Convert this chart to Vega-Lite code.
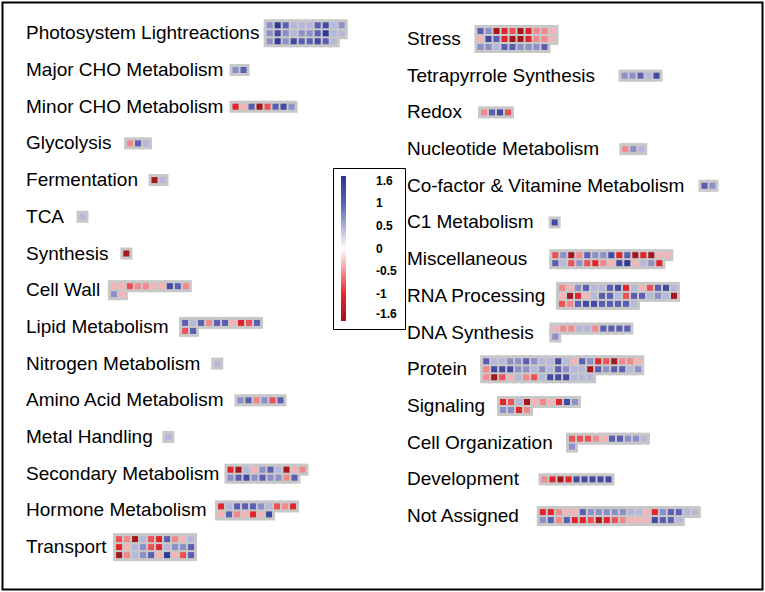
{
"$schema": "https://vega.github.io/schema/vega-lite/v6.json",
"width": 765, "height": 592,
"autosize": {"type": "fit", "contains": "padding"},
"padding": 2.5,
"background": "white",
"config": {"view": {"stroke": "#000", "strokeWidth": 2}},
"datasets": {
"cats": [
{"cat":"Photosystem Lightreactions","side":"L","slot":0,"x0":30.46},
{"cat":"Major CHO Metabolism","side":"L","slot":1,"x0":26.19},
{"cat":"Minor CHO Metabolism","side":"L","slot":2,"x0":26.19},
{"cat":"Glycolysis","side":"L","slot":3,"x0":13.0},
{"cat":"Fermentation","side":"L","slot":4,"x0":16.06},
{"cat":"TCA","side":"L","slot":5,"x0":7.06},
{"cat":"Synthesis","side":"L","slot":6,"x0":12.54},
{"cat":"Cell Wall","side":"L","slot":7,"x0":10.98},
{"cat":"Lipid Metabolism","side":"L","slot":8,"x0":19.88},
{"cat":"Nitrogen Metabolism","side":"L","slot":9,"x0":23.9},
{"cat":"Amino Acid Metabolism","side":"L","slot":10,"x0":26.81},
{"cat":"Metal Handling","side":"L","slot":11,"x0":17.79},
{"cat":"Secondary Metabolism","side":"L","slot":12,"x0":25.56},
{"cat":"Hormone Metabolism","side":"L","slot":13,"x0":24.38},
{"cat":"Transport","side":"L","slot":14,"x0":11.63},
{"cat":"Stress","side":"R","slot":0,"x0":9.19},
{"cat":"Tetrapyrrole Synthesis","side":"R","slot":1,"x0":27.19},
{"cat":"Redox","side":"R","slot":2,"x0":9.63},
{"cat":"Nucleotide Metabolism","side":"R","slot":3,"x0":27.29},
{"cat":"Co-factor & Vitamine Metabolism","side":"R","slot":4,"x0":37.19},
{"cat":"C1 Metabolism","side":"R","slot":5,"x0":18.46},
{"cat":"Miscellaneous","side":"R","slot":6,"x0":18.54},
{"cat":"RNA Processing","side":"R","slot":7,"x0":19.38},
{"cat":"DNA Synthesis","side":"R","slot":8,"x0":18.54},
{"cat":"Protein","side":"R","slot":9,"x0":9.9},
{"cat":"Signaling","side":"R","slot":10,"x0":12.0},
{"cat":"Cell Organization","side":"R","slot":11,"x0":20.63},
{"cat":"Development","side":"R","slot":12,"x0":17.19},
{"cat":"Not Assigned","side":"R","slot":13,"x0":16.98}
],
"cells": [
{"cat":"Photosystem Lightreactions","r":0,"c":0,"v":0.7},{"cat":"Photosystem Lightreactions","r":0,"c":1,"v":1.55},{"cat":"Photosystem Lightreactions","r":0,"c":2,"v":1.0},{"cat":"Photosystem Lightreactions","r":0,"c":3,"v":0.45},{"cat":"Photosystem Lightreactions","r":0,"c":4,"v":0.45},{"cat":"Photosystem Lightreactions","r":0,"c":5,"v":0.45},{"cat":"Photosystem Lightreactions","r":0,"c":6,"v":1.0},{"cat":"Photosystem Lightreactions","r":0,"c":7,"v":1.3},{"cat":"Photosystem Lightreactions","r":0,"c":8,"v":0.45},{"cat":"Photosystem Lightreactions","r":0,"c":9,"v":0.7},
{"cat":"Photosystem Lightreactions","r":1,"c":0,"v":0.7},{"cat":"Photosystem Lightreactions","r":1,"c":1,"v":1.3},{"cat":"Photosystem Lightreactions","r":1,"c":2,"v":0.7},{"cat":"Photosystem Lightreactions","r":1,"c":3,"v":0.45},{"cat":"Photosystem Lightreactions","r":1,"c":4,"v":0.7},{"cat":"Photosystem Lightreactions","r":1,"c":5,"v":0.7},{"cat":"Photosystem Lightreactions","r":1,"c":6,"v":1.0},{"cat":"Photosystem Lightreactions","r":1,"c":7,"v":1.55},{"cat":"Photosystem Lightreactions","r":1,"c":8,"v":0.45},{"cat":"Photosystem Lightreactions","r":1,"c":9,"v":0.45},
{"cat":"Photosystem Lightreactions","r":2,"c":0,"v":0.7},{"cat":"Photosystem Lightreactions","r":2,"c":1,"v":1.55},{"cat":"Photosystem Lightreactions","r":2,"c":2,"v":0.7},{"cat":"Photosystem Lightreactions","r":2,"c":3,"v":1.3},{"cat":"Photosystem Lightreactions","r":2,"c":4,"v":1.0},{"cat":"Photosystem Lightreactions","r":2,"c":5,"v":1.0},{"cat":"Photosystem Lightreactions","r":2,"c":6,"v":1.3},{"cat":"Photosystem Lightreactions","r":2,"c":7,"v":1.0},{"cat":"Photosystem Lightreactions","r":2,"c":8,"v":0.45},
{"cat":"Major CHO Metabolism","r":0,"c":0,"v":0.7},{"cat":"Major CHO Metabolism","r":0,"c":1,"v":1.0},
{"cat":"Minor CHO Metabolism","r":0,"c":0,"v":-1.05},{"cat":"Minor CHO Metabolism","r":0,"c":1,"v":-0.35},{"cat":"Minor CHO Metabolism","r":0,"c":2,"v":1.0},{"cat":"Minor CHO Metabolism","r":0,"c":3,"v":-1.55},{"cat":"Minor CHO Metabolism","r":0,"c":4,"v":-0.8},{"cat":"Minor CHO Metabolism","r":0,"c":5,"v":1.0},{"cat":"Minor CHO Metabolism","r":0,"c":6,"v":1.3},{"cat":"Minor CHO Metabolism","r":0,"c":7,"v":0.7},
{"cat":"Glycolysis","r":0,"c":0,"v":-0.55},{"cat":"Glycolysis","r":0,"c":1,"v":1.0},{"cat":"Glycolysis","r":0,"c":2,"v":0.45},
{"cat":"Fermentation","r":0,"c":0,"v":-1.55},{"cat":"Fermentation","r":0,"c":1,"v":0.45},
{"cat":"TCA","r":0,"c":0,"v":0.45},
{"cat":"Synthesis","r":0,"c":0,"v":-1.55},
{"cat":"Cell Wall","r":0,"c":0,"v":-0.35},{"cat":"Cell Wall","r":0,"c":1,"v":-0.35},{"cat":"Cell Wall","r":0,"c":2,"v":-0.8},{"cat":"Cell Wall","r":0,"c":3,"v":-0.55},{"cat":"Cell Wall","r":0,"c":4,"v":-0.55},{"cat":"Cell Wall","r":0,"c":5,"v":-0.35},{"cat":"Cell Wall","r":0,"c":6,"v":-0.35},{"cat":"Cell Wall","r":0,"c":7,"v":1.3},{"cat":"Cell Wall","r":0,"c":8,"v":1.0},{"cat":"Cell Wall","r":0,"c":9,"v":-0.55},
{"cat":"Cell Wall","r":1,"c":0,"v":0.7},{"cat":"Cell Wall","r":1,"c":1,"v":-0.35},
{"cat":"Lipid Metabolism","r":0,"c":0,"v":1.0},{"cat":"Lipid Metabolism","r":0,"c":1,"v":0.45},{"cat":"Lipid Metabolism","r":0,"c":2,"v":1.0},{"cat":"Lipid Metabolism","r":0,"c":3,"v":-0.55},{"cat":"Lipid Metabolism","r":0,"c":4,"v":1.0},{"cat":"Lipid Metabolism","r":0,"c":5,"v":1.0},{"cat":"Lipid Metabolism","r":0,"c":6,"v":-0.35},{"cat":"Lipid Metabolism","r":0,"c":7,"v":-1.05},{"cat":"Lipid Metabolism","r":0,"c":8,"v":-0.8},{"cat":"Lipid Metabolism","r":0,"c":9,"v":1.0},
{"cat":"Lipid Metabolism","r":1,"c":0,"v":-0.8},{"cat":"Lipid Metabolism","r":1,"c":1,"v":1.0},
{"cat":"Nitrogen Metabolism","r":0,"c":0,"v":0.45},
{"cat":"Amino Acid Metabolism","r":0,"c":0,"v":0.7},{"cat":"Amino Acid Metabolism","r":0,"c":1,"v":1.0},{"cat":"Amino Acid Metabolism","r":0,"c":2,"v":-0.55},{"cat":"Amino Acid Metabolism","r":0,"c":3,"v":0.7},{"cat":"Amino Acid Metabolism","r":0,"c":4,"v":-0.8},{"cat":"Amino Acid Metabolism","r":0,"c":5,"v":1.0},
{"cat":"Metal Handling","r":0,"c":0,"v":0.45},
{"cat":"Secondary Metabolism","r":0,"c":0,"v":-1.05},{"cat":"Secondary Metabolism","r":0,"c":1,"v":-1.55},{"cat":"Secondary Metabolism","r":0,"c":2,"v":0.45},{"cat":"Secondary Metabolism","r":0,"c":3,"v":-0.35},{"cat":"Secondary Metabolism","r":0,"c":4,"v":0.7},{"cat":"Secondary Metabolism","r":0,"c":5,"v":1.0},{"cat":"Secondary Metabolism","r":0,"c":6,"v":0.45},{"cat":"Secondary Metabolism","r":0,"c":7,"v":-1.55},{"cat":"Secondary Metabolism","r":0,"c":8,"v":-0.35},{"cat":"Secondary Metabolism","r":0,"c":9,"v":-0.55},
{"cat":"Secondary Metabolism","r":1,"c":0,"v":0.7},{"cat":"Secondary Metabolism","r":1,"c":1,"v":1.0},{"cat":"Secondary Metabolism","r":1,"c":2,"v":1.3},{"cat":"Secondary Metabolism","r":1,"c":3,"v":0.7},{"cat":"Secondary Metabolism","r":1,"c":4,"v":1.0},{"cat":"Secondary Metabolism","r":1,"c":5,"v":0.7},{"cat":"Secondary Metabolism","r":1,"c":6,"v":0.7},{"cat":"Secondary Metabolism","r":1,"c":7,"v":-0.55},{"cat":"Secondary Metabolism","r":1,"c":8,"v":1.0},
{"cat":"Hormone Metabolism","r":0,"c":0,"v":-1.05},{"cat":"Hormone Metabolism","r":0,"c":1,"v":0.45},{"cat":"Hormone Metabolism","r":0,"c":2,"v":1.0},{"cat":"Hormone Metabolism","r":0,"c":3,"v":1.0},{"cat":"Hormone Metabolism","r":0,"c":4,"v":1.0},{"cat":"Hormone Metabolism","r":0,"c":5,"v":0.7},{"cat":"Hormone Metabolism","r":0,"c":6,"v":0.45},{"cat":"Hormone Metabolism","r":0,"c":7,"v":-0.8},{"cat":"Hormone Metabolism","r":0,"c":8,"v":-0.55},{"cat":"Hormone Metabolism","r":0,"c":9,"v":-1.05},
{"cat":"Hormone Metabolism","r":1,"c":0,"v":-0.35},{"cat":"Hormone Metabolism","r":1,"c":1,"v":1.0},{"cat":"Hormone Metabolism","r":1,"c":2,"v":-0.55},{"cat":"Hormone Metabolism","r":1,"c":3,"v":-0.35},{"cat":"Hormone Metabolism","r":1,"c":4,"v":-1.05},{"cat":"Hormone Metabolism","r":1,"c":5,"v":-0.35},{"cat":"Hormone Metabolism","r":1,"c":6,"v":1.3},
{"cat":"Transport","r":0,"c":0,"v":-0.8},{"cat":"Transport","r":0,"c":1,"v":-0.55},{"cat":"Transport","r":0,"c":2,"v":-1.55},{"cat":"Transport","r":0,"c":3,"v":0.45},{"cat":"Transport","r":0,"c":4,"v":-0.8},{"cat":"Transport","r":0,"c":5,"v":-1.05},{"cat":"Transport","r":0,"c":6,"v":1.0},{"cat":"Transport","r":0,"c":7,"v":-0.55},{"cat":"Transport","r":0,"c":8,"v":-0.35},{"cat":"Transport","r":0,"c":9,"v":0.45},
{"cat":"Transport","r":1,"c":0,"v":-1.05},{"cat":"Transport","r":1,"c":1,"v":-0.35},{"cat":"Transport","r":1,"c":2,"v":0.45},{"cat":"Transport","r":1,"c":3,"v":0.7},{"cat":"Transport","r":1,"c":4,"v":-0.8},{"cat":"Transport","r":1,"c":5,"v":-1.05},{"cat":"Transport","r":1,"c":6,"v":0.45},{"cat":"Transport","r":1,"c":7,"v":0.7},{"cat":"Transport","r":1,"c":8,"v":0.7},{"cat":"Transport","r":1,"c":9,"v":1.0},
{"cat":"Transport","r":2,"c":0,"v":-1.55},{"cat":"Transport","r":2,"c":1,"v":-0.55},{"cat":"Transport","r":2,"c":2,"v":0.45},{"cat":"Transport","r":2,"c":3,"v":0.7},{"cat":"Transport","r":2,"c":4,"v":1.0},{"cat":"Transport","r":2,"c":5,"v":-0.35},{"cat":"Transport","r":2,"c":6,"v":1.55},{"cat":"Transport","r":2,"c":7,"v":-0.35},{"cat":"Transport","r":2,"c":8,"v":-0.8},{"cat":"Transport","r":2,"c":9,"v":1.0},
{"cat":"Stress","r":0,"c":0,"v":1.0},{"cat":"Stress","r":0,"c":1,"v":0.7},{"cat":"Stress","r":0,"c":2,"v":-1.55},{"cat":"Stress","r":0,"c":3,"v":-1.05},{"cat":"Stress","r":0,"c":4,"v":-0.8},{"cat":"Stress","r":0,"c":5,"v":-1.55},{"cat":"Stress","r":0,"c":6,"v":-1.05},{"cat":"Stress","r":0,"c":7,"v":-0.55},{"cat":"Stress","r":0,"c":8,"v":-0.55},{"cat":"Stress","r":0,"c":9,"v":-0.35},
{"cat":"Stress","r":1,"c":0,"v":-0.35},{"cat":"Stress","r":1,"c":1,"v":1.3},{"cat":"Stress","r":1,"c":2,"v":1.0},{"cat":"Stress","r":1,"c":3,"v":-1.05},{"cat":"Stress","r":1,"c":4,"v":-1.55},{"cat":"Stress","r":1,"c":5,"v":-1.55},{"cat":"Stress","r":1,"c":6,"v":-1.05},{"cat":"Stress","r":1,"c":7,"v":-0.55},{"cat":"Stress","r":1,"c":8,"v":-0.55},{"cat":"Stress","r":1,"c":9,"v":-0.35},
{"cat":"Stress","r":2,"c":0,"v":0.7},{"cat":"Stress","r":2,"c":1,"v":0.7},{"cat":"Stress","r":2,"c":2,"v":0.45},{"cat":"Stress","r":2,"c":3,"v":1.0},{"cat":"Stress","r":2,"c":4,"v":1.0},{"cat":"Stress","r":2,"c":5,"v":0.7},{"cat":"Stress","r":2,"c":6,"v":0.7},{"cat":"Stress","r":2,"c":7,"v":0.7},{"cat":"Stress","r":2,"c":8,"v":1.0},
{"cat":"Tetrapyrrole Synthesis","r":0,"c":0,"v":0.7},{"cat":"Tetrapyrrole Synthesis","r":0,"c":1,"v":0.7},{"cat":"Tetrapyrrole Synthesis","r":0,"c":2,"v":1.0},{"cat":"Tetrapyrrole Synthesis","r":0,"c":3,"v":0.45},{"cat":"Tetrapyrrole Synthesis","r":0,"c":4,"v":1.3},
{"cat":"Redox","r":0,"c":0,"v":-0.55},{"cat":"Redox","r":0,"c":1,"v":1.0},{"cat":"Redox","r":0,"c":2,"v":1.3},{"cat":"Redox","r":0,"c":3,"v":-0.8},
{"cat":"Nucleotide Metabolism","r":0,"c":0,"v":-0.55},{"cat":"Nucleotide Metabolism","r":0,"c":1,"v":0.7},{"cat":"Nucleotide Metabolism","r":0,"c":2,"v":0.45},
{"cat":"Co-factor & Vitamine Metabolism","r":0,"c":0,"v":1.0},{"cat":"Co-factor & Vitamine Metabolism","r":0,"c":1,"v":0.7},
{"cat":"C1 Metabolism","r":0,"c":0,"v":1.3},
{"cat":"Miscellaneous","r":0,"c":0,"v":-0.8},{"cat":"Miscellaneous","r":0,"c":1,"v":0.7},{"cat":"Miscellaneous","r":0,"c":2,"v":-1.55},{"cat":"Miscellaneous","r":0,"c":3,"v":-0.55},{"cat":"Miscellaneous","r":0,"c":4,"v":1.0},{"cat":"Miscellaneous","r":0,"c":5,"v":0.7},{"cat":"Miscellaneous","r":0,"c":6,"v":0.7},{"cat":"Miscellaneous","r":0,"c":7,"v":1.3},{"cat":"Miscellaneous","r":0,"c":8,"v":-1.05},{"cat":"Miscellaneous","r":0,"c":9,"v":1.0},{"cat":"Miscellaneous","r":0,"c":10,"v":-1.55},{"cat":"Miscellaneous","r":0,"c":11,"v":-1.05},{"cat":"Miscellaneous","r":0,"c":12,"v":-1.55},{"cat":"Miscellaneous","r":0,"c":13,"v":-0.35},{"cat":"Miscellaneous","r":0,"c":14,"v":-0.35},
{"cat":"Miscellaneous","r":1,"c":0,"v":1.0},{"cat":"Miscellaneous","r":1,"c":1,"v":0.45},{"cat":"Miscellaneous","r":1,"c":2,"v":-0.8},{"cat":"Miscellaneous","r":1,"c":3,"v":0.7},{"cat":"Miscellaneous","r":1,"c":4,"v":-0.8},{"cat":"Miscellaneous","r":1,"c":5,"v":-1.05},{"cat":"Miscellaneous","r":1,"c":6,"v":-0.55},{"cat":"Miscellaneous","r":1,"c":7,"v":-0.35},{"cat":"Miscellaneous","r":1,"c":8,"v":1.3},{"cat":"Miscellaneous","r":1,"c":9,"v":1.55},{"cat":"Miscellaneous","r":1,"c":10,"v":-0.35},{"cat":"Miscellaneous","r":1,"c":11,"v":0.45},{"cat":"Miscellaneous","r":1,"c":12,"v":0.7},{"cat":"Miscellaneous","r":1,"c":13,"v":-1.05},
{"cat":"RNA Processing","r":0,"c":0,"v":-0.55},{"cat":"RNA Processing","r":0,"c":1,"v":-0.35},{"cat":"RNA Processing","r":0,"c":2,"v":0.7},{"cat":"RNA Processing","r":0,"c":3,"v":1.0},{"cat":"RNA Processing","r":0,"c":4,"v":0.45},{"cat":"RNA Processing","r":0,"c":5,"v":0.45},{"cat":"RNA Processing","r":0,"c":6,"v":1.0},{"cat":"RNA Processing","r":0,"c":7,"v":1.3},{"cat":"RNA Processing","r":0,"c":8,"v":-1.05},{"cat":"RNA Processing","r":0,"c":9,"v":0.45},{"cat":"RNA Processing","r":0,"c":10,"v":-0.35},{"cat":"RNA Processing","r":0,"c":11,"v":-0.8},{"cat":"RNA Processing","r":0,"c":12,"v":1.0},{"cat":"RNA Processing","r":0,"c":13,"v":1.3},{"cat":"RNA Processing","r":0,"c":14,"v":0.45},
{"cat":"RNA Processing","r":1,"c":0,"v":-0.35},{"cat":"RNA Processing","r":1,"c":1,"v":-1.55},{"cat":"RNA Processing","r":1,"c":2,"v":-1.05},{"cat":"RNA Processing","r":1,"c":3,"v":-0.35},{"cat":"RNA Processing","r":1,"c":4,"v":0.45},{"cat":"RNA Processing","r":1,"c":5,"v":1.0},{"cat":"RNA Processing","r":1,"c":6,"v":1.0},{"cat":"RNA Processing","r":1,"c":7,"v":0.45},{"cat":"RNA Processing","r":1,"c":8,"v":-0.8},{"cat":"RNA Processing","r":1,"c":9,"v":1.0},{"cat":"RNA Processing","r":1,"c":10,"v":1.0},{"cat":"RNA Processing","r":1,"c":11,"v":0.45},{"cat":"RNA Processing","r":1,"c":12,"v":0.7},{"cat":"RNA Processing","r":1,"c":13,"v":0.45},{"cat":"RNA Processing","r":1,"c":14,"v":-1.55},
{"cat":"RNA Processing","r":2,"c":0,"v":-0.8},{"cat":"RNA Processing","r":2,"c":1,"v":-0.55},{"cat":"RNA Processing","r":2,"c":2,"v":1.0},{"cat":"RNA Processing","r":2,"c":3,"v":1.3},{"cat":"RNA Processing","r":2,"c":4,"v":1.3},{"cat":"RNA Processing","r":2,"c":5,"v":1.0},{"cat":"RNA Processing","r":2,"c":6,"v":1.0},{"cat":"RNA Processing","r":2,"c":7,"v":1.0},{"cat":"RNA Processing","r":2,"c":8,"v":1.0},{"cat":"RNA Processing","r":2,"c":9,"v":0.45},
{"cat":"DNA Synthesis","r":0,"c":0,"v":-0.35},{"cat":"DNA Synthesis","r":0,"c":1,"v":-0.55},{"cat":"DNA Synthesis","r":0,"c":2,"v":-0.55},{"cat":"DNA Synthesis","r":0,"c":3,"v":0.45},{"cat":"DNA Synthesis","r":0,"c":4,"v":0.45},{"cat":"DNA Synthesis","r":0,"c":5,"v":-0.55},{"cat":"DNA Synthesis","r":0,"c":6,"v":1.0},{"cat":"DNA Synthesis","r":0,"c":7,"v":1.0},{"cat":"DNA Synthesis","r":0,"c":8,"v":1.0},{"cat":"DNA Synthesis","r":0,"c":9,"v":1.0},
{"cat":"DNA Synthesis","r":1,"c":0,"v":0.7},
{"cat":"Protein","r":0,"c":0,"v":1.0},{"cat":"Protein","r":0,"c":1,"v":0.45},{"cat":"Protein","r":0,"c":2,"v":0.45},{"cat":"Protein","r":0,"c":3,"v":0.7},{"cat":"Protein","r":0,"c":4,"v":0.7},{"cat":"Protein","r":0,"c":5,"v":1.0},{"cat":"Protein","r":0,"c":6,"v":0.7},{"cat":"Protein","r":0,"c":7,"v":0.45},{"cat":"Protein","r":0,"c":8,"v":0.45},{"cat":"Protein","r":0,"c":9,"v":1.3},{"cat":"Protein","r":0,"c":10,"v":0.45},{"cat":"Protein","r":0,"c":11,"v":-0.35},{"cat":"Protein","r":0,"c":12,"v":1.0},{"cat":"Protein","r":0,"c":13,"v":0.7},{"cat":"Protein","r":0,"c":14,"v":-1.05},{"cat":"Protein","r":0,"c":15,"v":-0.8},{"cat":"Protein","r":0,"c":16,"v":-1.55},{"cat":"Protein","r":0,"c":17,"v":-0.55},{"cat":"Protein","r":0,"c":18,"v":-0.55},{"cat":"Protein","r":0,"c":19,"v":-0.35},
{"cat":"Protein","r":1,"c":0,"v":-0.55},{"cat":"Protein","r":1,"c":1,"v":1.3},{"cat":"Protein","r":1,"c":2,"v":1.3},{"cat":"Protein","r":1,"c":3,"v":1.3},{"cat":"Protein","r":1,"c":4,"v":0.7},{"cat":"Protein","r":1,"c":5,"v":0.7},{"cat":"Protein","r":1,"c":6,"v":0.45},{"cat":"Protein","r":1,"c":7,"v":0.7},{"cat":"Protein","r":1,"c":8,"v":0.45},{"cat":"Protein","r":1,"c":9,"v":1.0},{"cat":"Protein","r":1,"c":10,"v":0.7},{"cat":"Protein","r":1,"c":11,"v":0.45},{"cat":"Protein","r":1,"c":12,"v":0.45},{"cat":"Protein","r":1,"c":13,"v":-1.55},{"cat":"Protein","r":1,"c":14,"v":1.0},{"cat":"Protein","r":1,"c":15,"v":0.7},{"cat":"Protein","r":1,"c":16,"v":1.0},{"cat":"Protein","r":1,"c":17,"v":1.0},{"cat":"Protein","r":1,"c":18,"v":0.45},{"cat":"Protein","r":1,"c":19,"v":0.7},
{"cat":"Protein","r":2,"c":0,"v":-0.55},{"cat":"Protein","r":2,"c":1,"v":-1.55},{"cat":"Protein","r":2,"c":2,"v":-0.8},{"cat":"Protein","r":2,"c":3,"v":-0.35},{"cat":"Protein","r":2,"c":4,"v":0.45},{"cat":"Protein","r":2,"c":5,"v":-0.55},{"cat":"Protein","r":2,"c":6,"v":-0.8},{"cat":"Protein","r":2,"c":7,"v":0.45},{"cat":"Protein","r":2,"c":8,"v":1.3},{"cat":"Protein","r":2,"c":9,"v":1.3},{"cat":"Protein","r":2,"c":10,"v":1.3},{"cat":"Protein","r":2,"c":11,"v":0.45},{"cat":"Protein","r":2,"c":12,"v":0.45},{"cat":"Protein","r":2,"c":13,"v":0.45},
{"cat":"Signaling","r":0,"c":0,"v":-1.05},{"cat":"Signaling","r":0,"c":1,"v":-0.8},{"cat":"Signaling","r":0,"c":2,"v":0.45},{"cat":"Signaling","r":0,"c":3,"v":-1.55},{"cat":"Signaling","r":0,"c":4,"v":-0.35},{"cat":"Signaling","r":0,"c":5,"v":-0.55},{"cat":"Signaling","r":0,"c":6,"v":-0.35},{"cat":"Signaling","r":0,"c":7,"v":-1.05},{"cat":"Signaling","r":0,"c":8,"v":1.3},{"cat":"Signaling","r":0,"c":9,"v":0.7},
{"cat":"Signaling","r":1,"c":0,"v":0.7},{"cat":"Signaling","r":1,"c":1,"v":0.7},{"cat":"Signaling","r":1,"c":2,"v":-1.05},{"cat":"Signaling","r":1,"c":3,"v":-0.55},
{"cat":"Cell Organization","r":0,"c":0,"v":-0.8},{"cat":"Cell Organization","r":0,"c":1,"v":-0.8},{"cat":"Cell Organization","r":0,"c":2,"v":-0.8},{"cat":"Cell Organization","r":0,"c":3,"v":-0.55},{"cat":"Cell Organization","r":0,"c":4,"v":-0.35},{"cat":"Cell Organization","r":0,"c":5,"v":1.0},{"cat":"Cell Organization","r":0,"c":6,"v":1.0},{"cat":"Cell Organization","r":0,"c":7,"v":0.7},{"cat":"Cell Organization","r":0,"c":8,"v":0.7},{"cat":"Cell Organization","r":0,"c":9,"v":0.45},
{"cat":"Cell Organization","r":1,"c":0,"v":0.7},
{"cat":"Development","r":0,"c":0,"v":-0.55},{"cat":"Development","r":0,"c":1,"v":-1.05},{"cat":"Development","r":0,"c":2,"v":-1.55},{"cat":"Development","r":0,"c":3,"v":-1.05},{"cat":"Development","r":0,"c":4,"v":1.3},{"cat":"Development","r":0,"c":5,"v":1.3},{"cat":"Development","r":0,"c":6,"v":1.3},{"cat":"Development","r":0,"c":7,"v":1.3},{"cat":"Development","r":0,"c":8,"v":1.3},
{"cat":"Not Assigned","r":0,"c":0,"v":-1.05},{"cat":"Not Assigned","r":0,"c":1,"v":-1.05},{"cat":"Not Assigned","r":0,"c":2,"v":-0.55},{"cat":"Not Assigned","r":0,"c":3,"v":-0.35},{"cat":"Not Assigned","r":0,"c":4,"v":-0.35},{"cat":"Not Assigned","r":0,"c":5,"v":1.0},{"cat":"Not Assigned","r":0,"c":6,"v":0.7},{"cat":"Not Assigned","r":0,"c":7,"v":0.7},{"cat":"Not Assigned","r":0,"c":8,"v":0.7},{"cat":"Not Assigned","r":0,"c":9,"v":0.7},{"cat":"Not Assigned","r":0,"c":10,"v":0.7},{"cat":"Not Assigned","r":0,"c":11,"v":0.45},{"cat":"Not Assigned","r":0,"c":12,"v":0.45},{"cat":"Not Assigned","r":0,"c":13,"v":-0.35},{"cat":"Not Assigned","r":0,"c":14,"v":-1.05},{"cat":"Not Assigned","r":0,"c":15,"v":0.7},{"cat":"Not Assigned","r":0,"c":16,"v":1.0},{"cat":"Not Assigned","r":0,"c":17,"v":1.0},{"cat":"Not Assigned","r":0,"c":18,"v":0.45},{"cat":"Not Assigned","r":0,"c":19,"v":0.45},
{"cat":"Not Assigned","r":1,"c":0,"v":0.7},{"cat":"Not Assigned","r":1,"c":1,"v":1.0},{"cat":"Not Assigned","r":1,"c":2,"v":-0.55},{"cat":"Not Assigned","r":1,"c":3,"v":1.0},{"cat":"Not Assigned","r":1,"c":4,"v":-1.05},{"cat":"Not Assigned","r":1,"c":5,"v":-1.05},{"cat":"Not Assigned","r":1,"c":6,"v":-0.8},{"cat":"Not Assigned","r":1,"c":7,"v":-1.55},{"cat":"Not Assigned","r":1,"c":8,"v":-1.05},{"cat":"Not Assigned","r":1,"c":9,"v":-0.8},{"cat":"Not Assigned","r":1,"c":10,"v":-0.55},{"cat":"Not Assigned","r":1,"c":11,"v":-0.35},{"cat":"Not Assigned","r":1,"c":12,"v":-0.35},{"cat":"Not Assigned","r":1,"c":13,"v":-0.35},{"cat":"Not Assigned","r":1,"c":14,"v":1.3},{"cat":"Not Assigned","r":1,"c":15,"v":1.0},{"cat":"Not Assigned","r":1,"c":16,"v":1.0},{"cat":"Not Assigned","r":1,"c":17,"v":0.45}
]
},
"layer": [
{
"data": {"name": "cells"},
"transform": [
{"lookup": "cat", "from": {"data": {"name": "cats"}, "key": "cat", "fields": ["side", "slot", "x0"]}},
{"joinaggregate": [{"op": "max", "field": "r", "as": "maxr"}], "groupby": ["cat"]},
{"calculate": "(datum.side === 'L' ? 2.94 : 50.56) + datum.x0 + datum.c", "as": "gx"},
{"calculate": "(datum.side === 'L' ? 3.85 : 4.56) + datum.slot * 4.5875 + datum.r - datum.maxr / 2", "as": "gy"}
],
"encoding": {
"x": {"field": "gx", "type": "quantitative", "scale": {"domain": [0, 95], "nice": false, "zero": false}, "axis": null},
"y": {"field": "gy", "type": "quantitative", "scale": {"domain": [0, 73.375], "nice": false, "zero": false, "reverse": true}, "axis": null}
},
"layer": [
{"mark": {"type": "point", "shape": "square", "filled": true, "size": 144, "color": "#c8c8c8", "opacity": 1, "strokeWidth": 0}},
{"mark": {"type": "point", "shape": "square", "filled": true, "size": 36, "opacity": 1, "strokeWidth": 0},
"encoding": {
"color": {"field": "v", "type": "quantitative",
"scale": {"domain": [-1.6, -1, 0, 1, 1.6], "range": ["#a0161c", "#e8262d", "#ffffff", "#5a5fb3", "#2a3592"], "interpolate": "rgb", "clamp": true},
"legend": {"orient": "none", "legendX": 330.5, "legendY": 165.5, "title": null, "direction": "vertical",
"gradientLength": 145, "gradientThickness": 5, "gradientStrokeWidth": 0,
"values": [-1.6, -1, -0.5, 0, 0.5, 1, 1.6], "labelExpr": "'' + datum.value",
"labelFont": "Liberation Sans", "labelFontSize": 12, "labelFontWeight": "bold", "labelColor": "#000",
"labelAlign": "right", "labelOffset": 30, "labelOverlap": false,
"padding": 8, "strokeColor": "#000", "fillColor": "#fff"}
}
}
}
]
},
{
"data": {"name": "cats"},
"transform": [
{"calculate": "datum.side === 'L' ? 2.94 : 50.56", "as": "gx"},
{"calculate": "(datum.side === 'L' ? 3.85 : 4.56) + datum.slot * 4.5875", "as": "gy"}
],
"mark": {"type": "text", "align": "left", "baseline": "middle", "font": "Liberation Sans", "fontSize": 19, "color": "#000"},
"encoding": {
"x": {"field": "gx", "type": "quantitative", "scale": {"domain": [0, 95], "nice": false, "zero": false}, "axis": null},
"y": {"field": "gy", "type": "quantitative", "scale": {"domain": [0, 73.375], "nice": false, "zero": false, "reverse": true}, "axis": null},
"text": {"field": "cat"}
}
}
]
}
